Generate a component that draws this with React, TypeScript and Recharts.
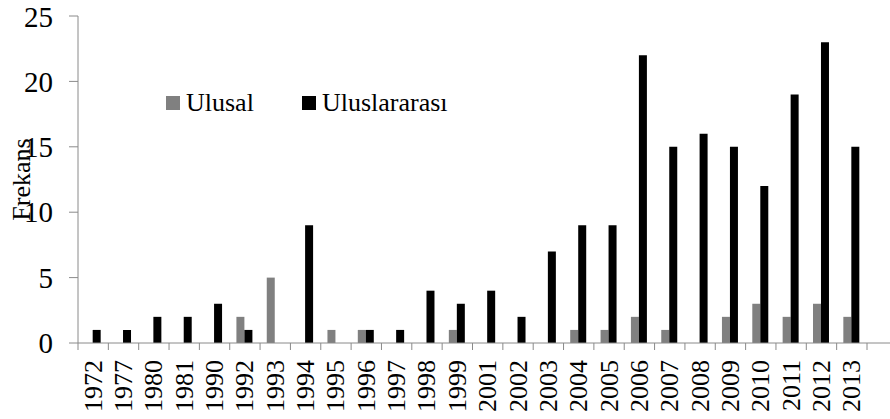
import React from "react";
import { BarChart, Bar, XAxis, YAxis, Legend } from "recharts";

const years = [
  "1972", "1977", "1980", "1981", "1990", "1992", "1993", "1994", "1995",
  "1996", "1997", "1998", "1999", "2001", "2002", "2003", "2004", "2005",
  "2006", "2007", "2008", "2009", "2010", "2011", "2012", "2013",
];
const ulusal = [0, 0, 0, 0, 0, 2, 5, 0, 1, 1, 0, 0, 1, 0, 0, 0, 1, 1, 2, 1, 0, 2, 3, 2, 3, 2];
const uluslararasi = [1, 1, 2, 2, 3, 1, 0, 9, 0, 1, 1, 4, 3, 4, 2, 7, 9, 9, 22, 15, 16, 15, 12, 19, 23, 15];
const yTicks = [0, 5, 10, 15, 20, 25];

const data = years.map((year, i) => ({
  year,
  ulusal: ulusal[i],
  uluslararasi: uluslararasi[i],
}));

const FONT = "'Liberation Serif', 'DejaVu Serif', serif";
const AXIS = "#8a8a8a";
const HALF_BAND = 789 / 26 / 2;

function YearTick(props: any) {
  const { x, y, payload, index } = props;
  const last = index === years.length - 1;
  return (
    <g>
      <line x1={x - HALF_BAND} x2={x - HALF_BAND} y1={y} y2={y + 7} stroke={AXIS} />
      {last && (
        <>
          <line x1={x + HALF_BAND} x2={x + HALF_BAND} y1={y} y2={y + 7} stroke={AXIS} />
          <line x1={x + HALF_BAND} x2={x + HALF_BAND + 24} y1={y} y2={y} stroke={AXIS} />
        </>
      )}
      <text
        x={x}
        y={y + 17}
        transform={`rotate(-90, ${x}, ${y + 17})`}
        textAnchor="end"
        dominantBaseline="central"
        fontFamily={FONT}
        fontSize={26}
        fill="#000"
      >
        {payload.value}
      </text>
    </g>
  );
}

// zero-height box so the legend reserves no room in the chart
function LegendContent(props: any) {
  const { payload } = props;
  return (
    <div style={{ height: 0, overflow: "visible", position: "relative" }}>
      <div
        style={{
          position: "absolute",
          left: 0,
          top: 0,
          display: "flex",
          alignItems: "center",
          fontFamily: FONT,
          fontSize: 26,
          whiteSpace: "nowrap",
        }}
      >
        {payload.map((entry: any, i: number) => (
          <div key={i} style={{ display: "flex", alignItems: "center", marginRight: 48 }}>
            <span
              style={{
                width: 14,
                height: 14,
                background: entry.color,
                display: "inline-block",
                marginRight: 6,
              }}
            />
            <span>{entry.value}</span>
          </div>
        ))}
      </div>
    </div>
  );
}

export default function App() {
  return (
    <div style={{ position: "absolute", left: 0, top: 0, width: 890, height: 419, background: "#fff" }}>
      <BarChart
        width={890}
        height={419}
        data={data}
        margin={{ top: 16, right: 23, left: 0, bottom: 0 }}
        barCategoryGap="22%"
        barGap={0}
      >
        <XAxis
          dataKey="year"
          interval={0}
          height={76}
          tickSize={0}
          tickMargin={0}
          tickLine={false}
          axisLine={{ stroke: AXIS }}
          tick={<YearTick />}
        />
        <YAxis
          domain={[0, 25]}
          ticks={yTicks}
          width={78}
          tickSize={9}
          tickMargin={16}
          axisLine={{ stroke: AXIS }}
          tickLine={{ stroke: AXIS }}
          tick={{ fontFamily: FONT, fontSize: 29, fill: "#000" }}
          label={{
            value: "Frekans",
            angle: -90,
            position: "insideLeft",
            offset: 21,
            style: { fontFamily: FONT, fontSize: 26, fill: "#000", textAnchor: "middle" },
          }}
        />
        <Legend
          content={<LegendContent />}
          wrapperStyle={{ position: "absolute", left: 166, top: 88, width: 400, height: 0 }}
        />
        <Bar dataKey="ulusal" name="Ulusal" fill="#808080" isAnimationActive={false} />
        <Bar dataKey="uluslararasi" name="Uluslararası" fill="#000000" isAnimationActive={false} />
      </BarChart>
    </div>
  );
}
